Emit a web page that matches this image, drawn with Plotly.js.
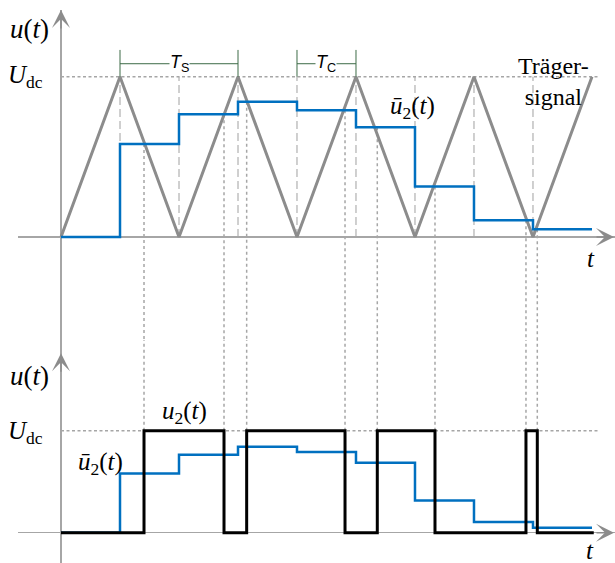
<!DOCTYPE html>
<html>
<head>
<meta charset="utf-8">
<script src="https://cdn.plot.ly/plotly-3.0.1.min.js"></script>
<style>html,body{margin:0;padding:0;background:#fff;}#chart{width:615px;height:563px;}</style>
</head>
<body>
<div id="chart"></div>
<script>
// ---- data ----
const carrierT = [0, 1, 2, 3, 4, 5, 6, 7, 8, 9];
const carrierV = [0, 1, 0, 1, 0, 1, 0, 1, 0, 1];
const stepT = [0, 1, 2, 3, 4, 5, 6, 7, 8, 9];
const stepV = [0, 0.58, 0.765, 0.843, 0.79, 0.685, 0.315, 0.105, 0.048, 0.048];
const pwmT = [0, 1.407, 2.763, 3.147, 4.814, 5.361, 6.339, 7.881, 8.073, 9.03];
const pwmV = [0, 1, 0, 1, 0, 1, 0, 1, 0, 0];
const udcLevel = 1;
const udcEnd = 9.1;
const tsSpan = [1, 3];
const tcSpan = [4, 5];

// ---- axes ranges ----
const xRange = [-0.7288, 9.390];
const yTopRange = [-0.6425, 1.4161];
const yBotRange = [-0.297, 1.889];
const split = 0.40325;

const gray = '#8c8c8c';
const axisGray = '#a6a6a6';
const blue = '#0070c0';
const green = '#3d6b47';
const serif = '"Liberation Serif", "Times New Roman", serif';
const sans = '"Liberation Sans", Arial, sans-serif';

const traces = [
  {x: carrierT, y: carrierV, xaxis: 'x', yaxis: 'y', mode: 'lines',
   line: {color: gray, width: 3}, hoverinfo: 'skip'},
  {x: stepT, y: stepV, xaxis: 'x', yaxis: 'y', mode: 'lines',
   line: {color: blue, width: 2.5, shape: 'hv'}, hoverinfo: 'skip'},
  {x: stepT, y: stepV, xaxis: 'x2', yaxis: 'y2', mode: 'lines',
   line: {color: blue, width: 2.5, shape: 'hv'}, hoverinfo: 'skip'},
  {x: pwmT, y: pwmV, xaxis: 'x2', yaxis: 'y2', mode: 'lines',
   line: {color: '#000', width: 3, shape: 'hv'}, hoverinfo: 'skip'}
];

const shapes = [];
// dashed verticals at carrier vertices
carrierT.slice(1, carrierT.length - 1).forEach(t => {
  shapes.push({type: 'line', xref: 'x', yref: 'y', x0: t, x1: t, y0: 0, y1: udcLevel,
    line: {color: '#a0a0a0', width: 1, dash: '8px,4px'}, layer: 'below'});
});
// Udc dotted lines
shapes.push({type: 'line', xref: 'x', yref: 'y', x0: 0, x1: udcEnd, y0: udcLevel, y1: udcLevel,
  line: {color: axisGray, width: 1.5, dash: '3px,2.5px'}, layer: 'below'});
shapes.push({type: 'line', xref: 'x2', yref: 'y2', x0: 0, x1: udcEnd, y0: udcLevel, y1: udcLevel,
  line: {color: axisGray, width: 1.5, dash: '3px,2.5px'}, layer: 'below'});
// dotted verticals at switching instants
pwmT.slice(1, pwmT.length - 1).forEach(t => {
  const lvl = stepV[Math.floor(t)];
  shapes.push({type: 'line', xref: 'x', yref: 'y', x0: t, x1: t, y0: lvl, y1: yTopRange[0],
    line: {color: axisGray, width: 1.5, dash: '3px,3px'}, layer: 'below'});
  shapes.push({type: 'line', xref: 'x2', yref: 'y2', x0: t, x1: t, y0: udcLevel, y1: yBotRange[1],
    line: {color: axisGray, width: 1.5, dash: '3px,3px'}, layer: 'below'});
});
// Ts / Tc brackets
[tsSpan, tcSpan].forEach(sp => {
  shapes.push({type: 'line', xref: 'x', yref: 'y', x0: sp[0], x1: sp[1], y0: 1.081, y1: 1.081,
    line: {color: green, width: 1}});
  sp.forEach(t => shapes.push({type: 'line', xref: 'x', yref: 'y', x0: t, x1: t, y0: 1.0, y1: 1.167,
    line: {color: green, width: 1}}));
});

function arrow(o) {
  return Object.assign({text: '', showarrow: true, arrowhead: 3, arrowsize: 2,
    arrowwidth: 1.5, arrowcolor: gray, standoff: 0}, o);
}
function label(x, y, text, xref, yref, size, extra) {
  return Object.assign({x: x, y: y, xref: xref, yref: yref, text: text, showarrow: false,
    font: {family: serif, size: size, color: '#000'}, xanchor: 'center', yanchor: 'middle'}, extra || {});
}

const annotations = [
  arrow({x: 0, y: 1, xref: 'x', yref: 'paper', ax: 0, ay: 20}),
  arrow({x: 0, y: 1.76, xref: 'x2', yref: 'y2', ax: 0, ay: 20}),
  arrow({x: 1, y: 0, xref: 'paper', yref: 'y', ax: -20, ay: 0}),
  arrow({x: 1, y: 0, xref: 'paper', yref: 'y2', ax: -20, ay: 0}),
  label(-0.542, 1.298, '<i>u</i>(<i>t</i>)', 'x', 'y', 27),
  label(-0.61, 1.0, '<i>U</i><sub>dc</sub>', 'x', 'y', 25),
  label(8.98, -0.137, '<i>t</i>', 'x', 'y', 25),
  label(5.966, 0.805, '<i>ū</i><sub>2</sub>(<i>t</i>)', 'x', 'y', 25),
  label(8.34, 0.967, 'Träger-<br>signal', 'x', 'y', 24),
  label(2.0, 1.081, '<i>T</i><sub>S</sub>', 'x', 'y', 18,
    {font: {family: sans, size: 18, color: '#000'}, bgcolor: '#fff', borderpad: 0}),
  label(4.5, 1.081, '<i>T</i><sub>C</sub>', 'x', 'y', 18,
    {font: {family: sans, size: 18, color: '#000'}, bgcolor: '#fff', borderpad: 0}),
  label(-0.542, 1.536, '<i>u</i>(<i>t</i>)', 'x2', 'y2', 27),
  label(-0.61, 0.98, '<i>U</i><sub>dc</sub>', 'x2', 'y2', 25),
  label(2.10, 1.174, '<i>u</i><sub>2</sub>(<i>t</i>)', 'x2', 'y2', 25),
  label(0.661, 0.674, '<i>ū</i><sub>2</sub>(<i>t</i>)', 'x2', 'y2', 25),
  label(8.97, -0.17, '<i>t</i>', 'x2', 'y2', 25)
];

const axBase = {showgrid: false, showticklabels: false, ticks: '', showline: false,
  zeroline: true, zerolinecolor: axisGray, zerolinewidth: 1.5, fixedrange: true};

const layout = {
  width: 615, height: 563,
  margin: {l: 18, r: 0, t: 10, b: 0},
  paper_bgcolor: '#fff', plot_bgcolor: '#fff',
  showlegend: false,
  font: {family: serif, size: 24},
  xaxis: Object.assign({}, axBase, {range: xRange, domain: [0, 1], anchor: 'y'}),
  yaxis: Object.assign({}, axBase, {range: yTopRange, domain: [split, 1], anchor: 'x'}),
  xaxis2: Object.assign({}, axBase, {range: xRange, domain: [0, 1], anchor: 'y2'}),
  yaxis2: Object.assign({}, axBase, {range: yBotRange, domain: [0, split], anchor: 'x2'}),
  shapes: shapes,
  annotations: annotations
};

Plotly.newPlot('chart', traces, layout, {staticPlot: true, displayModeBar: false});
</script>
</body>
</html>
